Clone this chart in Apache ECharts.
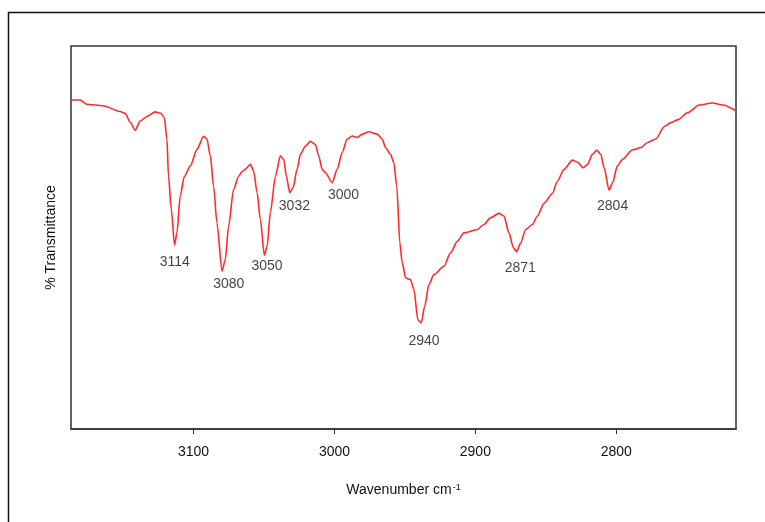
<!DOCTYPE html>
<html>
<head>
<meta charset="utf-8">
<script src="https://cdn.jsdelivr.net/npm/echarts@6/dist/echarts.min.js"></script>
<style>
html,body{margin:0;padding:0;background:#fff;}
#chart{width:765px;height:522px;}
</style>
</head>
<body>
<div id="chart"></div>
<script>
// Spectrum trace: wavenumber (cm-1) and % transmittance
var wavenumbers = [3186.4,3180.5,3175.8,3164.2,3152.1,3148.5,3145.0,3141.4,3137.9,3133.1,3127.2,3123.7,3120.8,3118.9,3117.8,3115.8,3113.5,3111.8,3109.5,3106.6,3102.3,3097.6,3092.9,3090.5,3088.1,3085.8,3083.4,3079.8,3077.5,3075.1,3071.6,3068.0,3065.6,3063.3,3059.7,3057.4,3054.9,3052.6,3049.8,3047.8,3045.5,3041.9,3038.4,3036.0,3034.1,3031.8,3029.4,3026.5,3024.2,3020.6,3017.1,3013.5,3011.2,3008.7,3006.4,3001.6,2998.1,2994.5,2991.0,2987.4,2983.9,2980.3,2975.6,2969.7,2966.1,2963.8,2960.2,2957.9,2955.8,2953.6,2951.9,2949.5,2946.0,2943.6,2940.8,2938.4,2936.0,2933.0,2929.4,2922.3,2917.6,2912.8,2908.1,2898.6,2893.9,2889.1,2883.2,2879.7,2876.1,2873.0,2870.7,2867.8,2864.3,2859.5,2856.0,2851.3,2845.3,2841.8,2837.0,2831.1,2827.6,2823.3,2820.4,2816.9,2813.8,2811.0,2808.6,2805.1,2802.6,2799.2,2795.5,2788.4,2782.5,2777.8,2771.9,2765.9,2761.2,2756.4,2749.3,2741.1,2731.6,2724.4,2715.0];
var transmittance = [85.9,85.9,84.8,84.4,82.9,82.4,80.1,78.0,80.4,81.6,82.8,82.5,81.4,75.7,66.0,57.3,48.0,51.3,60.8,65.9,68.7,73.0,76.4,75.7,71.3,63.4,53.8,41.2,44.2,53.0,62.6,66.0,67.2,67.8,69.1,67.4,61.7,54.7,45.4,47.7,56.5,66.0,71.3,70.4,66.0,61.7,63.0,67.8,71.7,73.9,75.1,74.3,71.3,67.8,66.9,64.3,67.8,72.2,75.7,76.5,76.1,77.0,77.6,77.0,75.7,73.5,71.7,69.6,63.5,48.6,43.4,39.5,39.0,36.4,28.5,27.7,32.0,37.7,40.3,42.5,46.0,49.0,51.2,52.1,53.4,55.2,56.3,55.6,51.2,47.3,46.3,48.6,52.1,53.4,55.6,58.9,61.5,64.7,67.8,70.2,69.7,68.2,69.1,71.7,72.8,71.7,68.2,62.4,64.3,68.7,70.4,72.9,73.5,74.8,75.7,79.0,80.0,80.7,82.6,84.6,85.1,84.6,83.1];

// Annotated absorption bands
var peakLabels = ['3114','3080','3050','3032','3000','2940','2871','2804'];
var peakWavenumbers = [3114,3080,3050,3032,3000,2940,2871,2804];
var peakTransmittance = [48.0,41.2,45.4,61.7,64.3,27.9,46.3,62.4];

// Axis tick labels
var xTicks = [3100,3000,2900,2800];

var labelOffsets = [[1,17],[7,13],[3,11],[5,13],[9,12],[5,19],[4,16],[2,16]];

var lineData = wavenumbers.map(function(w,i){return [w, transmittance[i]];});
var peakData = peakWavenumbers.map(function(w,i){
  return {value:[w, peakTransmittance[i]], name:peakLabels[i],
    label:{offset:labelOffsets[i]}};
});

var chart = echarts.init(document.getElementById('chart'), null, {renderer:'canvas'});
var font = 'Liberation Sans, Arial, sans-serif';
chart.setOption({
  animation:false,
  backgroundColor:'#fff',
  grid:{left:71,top:46,right:29,bottom:93,show:true,borderColor:'#333',borderWidth:1.5,containLabel:false},
  graphic:[{
    type:'polyline',
    shape:{points:[[8.5,530],[8.5,12.5],[780,12.5]]},
    style:{stroke:'#111',lineWidth:1.5,fill:null},
    silent:true
  }],
  xAxis:{
    type:'value', inverse:true, min:2715, max:3187,
    axisLine:{show:true,onZero:false,lineStyle:{color:'#333',width:1.5}},
    axisTick:{show:true,length:5,customValues:xTicks,lineStyle:{color:'#333'}},
    axisLabel:{show:true,customValues:xTicks,formatter:function(v){return String(v);},
      color:'#111',fontFamily:font,fontSize:14,margin:16},
    splitLine:{show:false},
    name:'Wavenumber cm{sup|-1}',
    nameLocation:'middle', nameGap:54,
    nameTextStyle:{color:'#111',fontFamily:font,fontSize:14,
      rich:{sup:{fontSize:9,verticalAlign:'top',color:'#111',fontFamily:font,padding:[0,0,6,1]}}}
  },
  yAxis:{
    type:'value', min:0, max:100,
    axisLine:{show:false}, axisTick:{show:false}, axisLabel:{show:false}, splitLine:{show:false},
    name:'% Transmittance', nameLocation:'middle', nameGap:13, nameRotate:90,
    nameTextStyle:{color:'#111',fontFamily:font,fontSize:14}
  },
  series:[{
    type:'line', data:lineData, showSymbol:false, smooth:0.25, smoothMonotone:'x',
    lineStyle:{color:'#ff2a2a',width:1.6}, silent:true
  },{
    type:'scatter', data:peakData, symbolSize:0, silent:true,
    label:{show:true,position:'inside',formatter:'{b}',color:'#111',fontFamily:font,fontSize:14}
  }]
});
</script>
</body>
</html>
